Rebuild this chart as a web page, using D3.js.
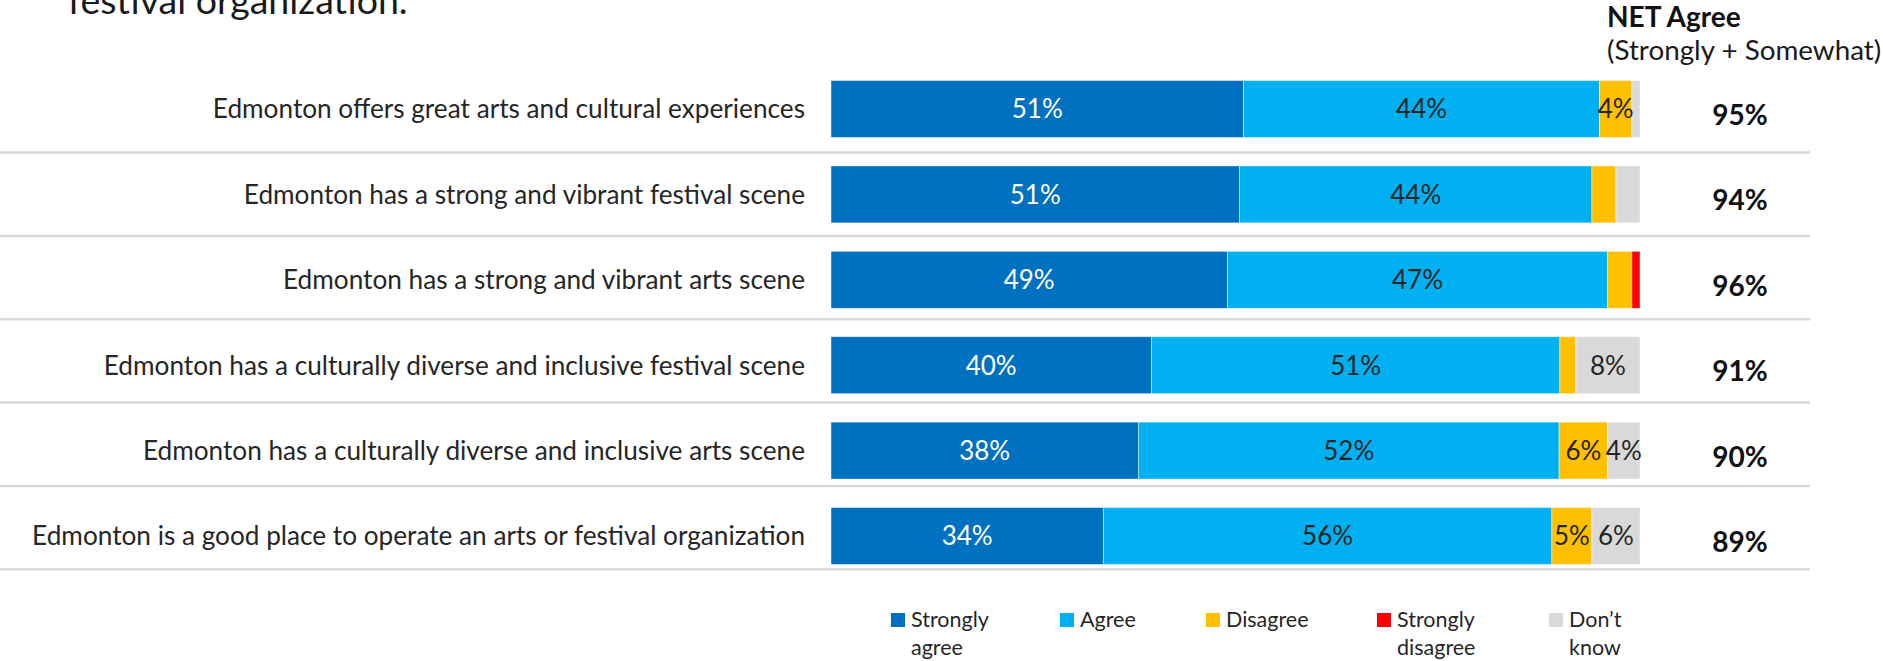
<!DOCTYPE html>
<html>
<head>
<meta charset="utf-8">
<script src="https://cdn.jsdelivr.net/npm/d3@7"></script>
<style>
  html, body { margin: 0; padding: 0; background: #fff; }
  svg { display: block; }
</style>
</head>
<body>
<svg id="chart" width="1883" height="661"></svg>
<script>
// Statements rated, top to bottom
const categories = [
  "Edmonton offers great arts and cultural experiences",
  "Edmonton has a strong and vibrant festival scene",
  "Edmonton has a strong and vibrant arts scene",
  "Edmonton has a culturally diverse and inclusive festival scene",
  "Edmonton has a culturally diverse and inclusive arts scene",
  "Edmonton is a good place to operate an arts or festival organization"
];

// Response shares (%) per statement
const stronglyAgree    = [51, 51, 49, 40, 38, 34];
const agree            = [44, 44, 47, 51, 52, 56];
const disagree         = [4, 3, 3, 2, 6, 5];
const stronglyDisagree = [0, 0, 1, 0, 0, 0];
const dontKnow         = [1, 3, 0, 8, 4, 6];

// NET agree (strongly + somewhat), as reported
const netAgree = [95, 94, 96, 91, 90, 89];

const seriesNames = ["Strongly agree", "Agree", "Disagree", "Strongly disagree", "Don\u2019t know"];
const seriesColors = ["#0070C0", "#00B0F0", "#FFC000", "#FF0000", "#D9D9D9"];
const seriesTextColors = ["#ffffff", "#262626", "#262626", "#262626", "#262626"];

const titleTail = "festival organization.";
const netTitle = "NET Agree";
const netSubtitle = "(Strongly + Somewhat)";

// ---- layout ----
const FONT = "Lato, 'Open Sans', sans-serif";
const barLeft = 831, barRight = 1640;
const legendX = [891, 1060, 1206, 1377, 1549];

const svg = d3.select("#chart");
const series = [stronglyAgree, agree, disagree, stronglyDisagree, dontKnow];

const rows = categories.map((c, i) => {
  const vals = series.map(s => s[i]);
  const total = d3.sum(vals);
  let acc = 0;
  const segs = vals.map((v, k) => {
    const seg = { k, v, x0: acc, x1: acc + v, total };
    acc += v;
    return seg;
  });
  return { category: c, segs, total, net: netAgree[i] };
});

const y = d3.scaleBand()
  .domain(categories)
  .range([66.3, 578.7])
  .paddingInner(0.333)
  .paddingOuter(0.1665);

// row dividers
const sepY = d3.scaleLinear().domain([0, categories.length - 1]).range([152.6, 569.2]);
svg.append("g").selectAll("line")
  .data(d3.range(categories.length))
  .join("line")
  .attr("x1", 0).attr("x2", 1810)
  .attr("y1", d => sepY(d)).attr("y2", d => sepY(d))
  .attr("stroke", "#D9D9D9").attr("stroke-width", 2.5);

// title tail (first line sits above the visible area)
svg.append("text")
  .attr("x", 68).attr("y", 14)
  .attr("font-family", FONT).attr("font-size", 37.5)
  .attr("fill", "#1a1a1a")
  .text(titleTail);

// stacked bars (each row is a 100% stack)
const rowG = svg.append("g").selectAll("g.row")
  .data(rows)
  .join("g")
  .attr("class", "row")
  .attr("transform", d => `translate(0,${y(d.category)})`);

rowG.each(function(row) {
  const g = d3.select(this);
  const x = d3.scaleLinear().domain([0, row.total]).range([barLeft, barRight]);
  const bh = y.bandwidth();
  g.selectAll("rect")
    .data(row.segs.filter(s => s.v > 0))
    .join("rect")
    .attr("x", s => x(s.x0))
    .attr("width", s => x(s.x1) - x(s.x0))
    .attr("y", 0)
    .attr("height", bh)
    .attr("fill", s => seriesColors[s.k])
    .attr("stroke", "#ffffff")
    .attr("stroke-opacity", 0.6)
    .attr("stroke-width", 0.75);
  g.selectAll("text.val")
    .data(row.segs.filter(s => s.v >= 4))
    .join("text")
    .attr("class", "val")
    .attr("x", s => (x(s.x0) + x(s.x1)) / 2)
    .attr("y", bh / 2)
    .attr("dy", "0.36em")
    .attr("text-anchor", "middle")
    .attr("font-family", FONT).attr("font-size", 26)
    .attr("fill", s => seriesTextColors[s.k])
    .text(s => s.v + "%");
  // category label
  g.append("text")
    .attr("x", 805).attr("y", bh / 2).attr("dy", "0.36em")
    .attr("text-anchor", "end")
    .attr("font-family", FONT).attr("font-size", 26.2)
    .attr("fill", "#262626")
    .text(row.category);
  // NET value
  g.append("text")
    .attr("x", 1740).attr("y", bh / 2 + 6).attr("dy", "0.36em")
    .attr("text-anchor", "middle")
    .attr("font-family", FONT).attr("font-size", 28).attr("font-weight", "bold")
    .attr("fill", "#111")
    .text(row.net + "%");
});

// NET column header
svg.append("text")
  .attr("x", 1607).attr("y", 27)
  .attr("font-family", FONT).attr("font-size", 28).attr("font-weight", "bold")
  .attr("fill", "#111")
  .text(netTitle);
svg.append("text")
  .attr("x", 1607).attr("y", 60)
  .attr("font-family", FONT).attr("font-size", 27.8)
  .attr("fill", "#1a1a1a")
  .text(netSubtitle);

// legend
const leg = svg.append("g").selectAll("g")
  .data(seriesNames)
  .join("g")
  .attr("transform", (d, i) => `translate(${legendX[i]},627)`);
leg.append("rect")
  .attr("x", 0).attr("y", -14).attr("width", 14).attr("height", 14)
  .attr("fill", (d, i) => seriesColors[i]);
leg.append("text")
  .attr("x", 20).attr("y", 0)
  .attr("font-family", FONT).attr("font-size", 21.5)
  .attr("fill", "#262626")
  .selectAll("tspan")
  .data(d => d.split(" "))
  .join("tspan")
  .attr("x", 20)
  .attr("dy", (d, i) => i === 0 ? 0 : 28)
  .text(d => d);
</script>
</body>
</html>
